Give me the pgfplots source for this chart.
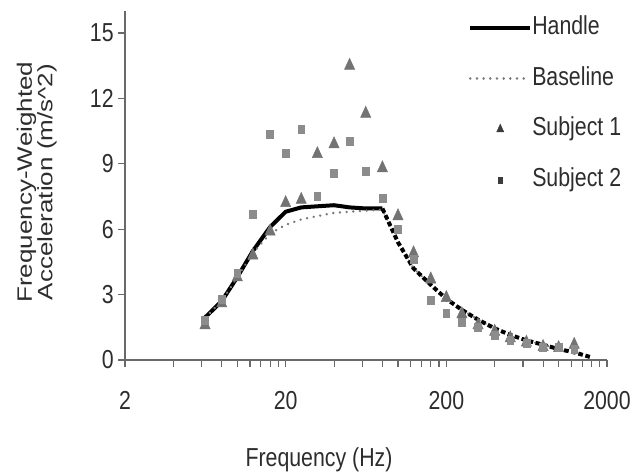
\documentclass[border=0pt]{standalone}
\usepackage{fontspec}
\setmainfont{Liberation Sans}[FakeStretch=0.82]
\newfontfamily\ylfont{Liberation Sans}
\usepackage{graphicx}
\usepackage{pgfplots}
\pgfplotsset{compat=1.18}
\definecolor{axgray}{RGB}{105,105,105}
\definecolor{txtgray}{RGB}{45,45,45}
\definecolor{trigray}{RGB}{115,115,115}
\definecolor{sqgray}{RGB}{140,140,140}
\definecolor{basegray}{RGB}{120,120,120}
\definecolor{leggray}{RGB}{60,60,60}

\newcommand{\chartfont}{\fontsize{19.5}{23}\selectfont}

\pgfplotsset{
    lineleg/.style={legend image code/.code={\draw[##1] (0pt,0pt) -- (45pt,0pt);}},
    triLeg/.style={legend image code/.code={\draw[mark repeat=2, mark phase=2, ##1, mark size=3.8pt, mark options={xscale=0.8, draw=leggray, fill=leggray}] plot coordinates {(0pt,0pt) (22.5pt,0pt) (45pt,0pt)};}},
    sqLeg/.style={legend image code/.code={\draw[mark repeat=2, mark phase=2, ##1, mark size=2.3pt, mark options={xscale=0.8, draw=leggray, fill=leggray}] plot coordinates {(0pt,0pt) (22.5pt,0pt) (45pt,0pt)};}},
}

\begin{document}
\begin{tikzpicture}
\begin{axis}[
    at={(0,0)}, anchor=south west,
    scale only axis,
    width=361.5pt, height=261.6pt,
    xmode=log,
    xmin=2, xmax=2000,
    ymin=0, ymax=16,
    axis lines*=left,
    axis line style={axgray, line width=0.8pt},
    xtick={2,20,200,2000},
    xticklabels={2,20,200,2000},
    minor xtick={4,6,8,10,12,14,16,18,40,60,80,100,120,140,160,180,400,600,800,1000,1200,1400,1600,1800},
    ytick={0,3,6,9,12,15},
    minor ytick={},
    tick align=outside,
    major tick length=5pt,
    minor tick length=5pt,
    every tick/.style={axgray, line width=0.8pt},
    /pgf/number format/assume math mode=true,
    tick label style={font=\chartfont, text=txtgray},
    xticklabel style={yshift=-15pt},
    xlabel={Frequency (Hz)},
    xlabel style={font=\chartfont, text=txtgray, at={(rel axis cs:0.4025,0)}, anchor=base, yshift=-80pt},
    ylabel={\scalebox{1}[0.8]{Frequency-Weighted}\\\scalebox{1}[0.8]{Acceleration (m/s\textasciicircum 2)}},
    ylabel style={font=\ylfont\fontsize{19.5}{15.5}\selectfont, text=txtgray, align=center, at={(rel axis cs:0,0.51)}, anchor=south, yshift=51pt, inner sep=0pt},
    clip=false,
    legend cell align=left,
    legend style={draw=none, fill=none, at={(rel axis cs:0.7116,0.987)}, anchor=north west,
        font=\chartfont, text=txtgray, row sep=20pt, inner sep=0pt,
        nodes={inner sep=0pt, text height=14pt, text depth=4pt}},
]
% Handle (solid part)
\addplot[black, line width=3pt, line join=round, lineleg]
coordinates {
    (6.3,1.95) (8,2.7) (10,3.8) (12.5,5.0) (16,6.1) (20,6.8) (25,7.0)
    (31.5,7.05) (40,7.1) (50,7.0) (63,6.95) (80,6.95)
};
\addlegendentry{Handle}
% Baseline
\addplot[basegray, line width=2pt, line cap=round, dash pattern=on 0.01pt off 5pt, lineleg]
coordinates {
    (6.3,1.95) (8,2.7) (10,3.8) (12.5,4.9) (16,5.8) (20,6.2) (25,6.45)
    (31.5,6.6) (40,6.75) (50,6.8) (63,6.85) (80,6.9) (100,5.4) (125,4.2)
    (160,3.45) (200,2.8) (250,2.3) (315,1.85) (400,1.45) (500,1.15)
    (630,0.9) (800,0.7) (1000,0.5) (1250,0.35) (1600,0.12)
};
\addlegendentry{Baseline}
% Handle (high-frequency part)
\addplot[black, line width=3pt, dash pattern=on 3.5pt off 2pt, forget plot]
coordinates {
    (80,6.95) (100,5.4) (125,4.2) (160,3.45) (200,2.8) (250,2.3) (315,1.85)
    (400,1.45) (500,1.15) (630,0.9) (800,0.7) (1000,0.5) (1250,0.35) (1600,0.12)
};
% Subject 1
\addplot[only marks, mark=triangle*, mark size=5.5pt, trigray,
    mark options={xscale=0.8, draw=trigray, fill=trigray}, triLeg]
coordinates {
    (6.3,1.6) (8,2.6) (10,3.8) (12.5,4.8) (16,5.9) (20,7.2) (25,7.35)
    (31.5,9.45) (40,9.9) (50,13.5) (63,11.3) (80,8.8) (100,6.6) (125,4.9)
    (160,3.7) (200,2.85) (250,2.1) (315,1.6) (400,1.3) (500,1.0) (630,0.8)
    (800,0.6) (1000,0.55) (1250,0.7)
};
\addlegendentry{Subject 1}
% Subject 2
\addplot[only marks, mark=square*, mark size=3pt, sqgray,
    mark options={xscale=0.85, draw=sqgray, fill=sqgray}, sqLeg]
coordinates {
    (6.3,1.8) (8,2.8) (10,4.0) (12.5,6.7) (16,10.35) (20,9.5) (25,10.6)
    (31.5,7.5) (40,8.55) (50,10.05) (63,8.65) (80,7.4) (100,6.0) (125,4.6)
    (160,2.75) (200,2.15) (250,1.75) (315,1.5) (400,1.15) (500,0.9)
    (630,0.75) (800,0.6) (1000,0.6) (1250,0.5)
};
\addlegendentry{Subject 2}
\end{axis}
\pgfresetboundingbox
\path[use as bounding box] (-93.75pt,-85.5pt) rectangle (381pt,270pt);
\end{tikzpicture}
\end{document}
